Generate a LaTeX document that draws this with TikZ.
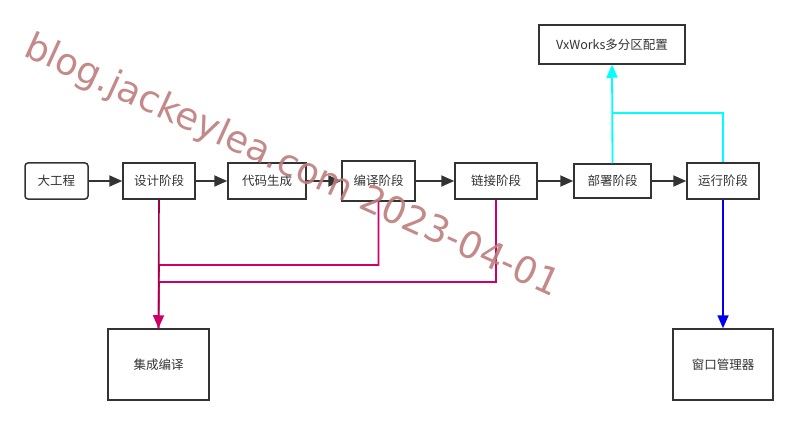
\documentclass[tikz,border=0pt]{standalone}
\usepackage{fontspec}
\setmainfont{Noto Sans CJK SC}
\newfontfamily\wmfont{DejaVu Sans}
\usetikzlibrary{arrows.meta}
\definecolor{boxc}{HTML}{333333}
\definecolor{pinkc}{HTML}{CC0066}
\definecolor{darkpink}{HTML}{A3004A}
\definecolor{wmc}{HTML}{BE7C7C}
\definecolor{cyanc}{HTML}{00FFFF}
\definecolor{bluec}{HTML}{0000EE}
\tikzset{
  box/.style={draw=boxc, line width=1.5pt, fill=white, text=boxc, font=\fontsize{12.5}{14}\selectfont, inner sep=0pt},
  flow/.style={draw=boxc, line width=1.8pt, -{Triangle[length=13pt,width=11pt]}},
  tip/.style={-{Triangle[length=13pt,width=11pt]}},
}
\begin{document}
\begin{tikzpicture}[x=1pt,y=-1pt]
\useasboundingbox (0,0) rectangle (798,425);
% nodes
\node[box, rounded corners=3pt, minimum width=63pt, minimum height=36pt] (dgc) at (56.5,181) {大工程};
\node[box, minimum width=72pt, minimum height=36pt] (sj) at (159,181) {设计阶段};
\node[box, minimum width=78pt, minimum height=36pt] (dm) at (267,181) {代码生成};
\node[box, minimum width=73pt, minimum height=40pt] (by) at (378.5,181) {编译阶段};
\node[box, minimum width=82pt, minimum height=36pt] (lj) at (496,181) {链接阶段};
\node[box, minimum width=77pt, minimum height=34pt] (bs) at (612.5,181) {部署阶段};
\node[box, minimum width=72pt, minimum height=36pt] (yx) at (723,181) {运行阶段};
\node[box, minimum width=146pt, minimum height=39pt] (vx) at (612,44.5) {VxWorks多分区配置};
\node[box, minimum width=101pt, minimum height=71pt] (jc) at (158.5,364.5) {集成编译};
\node[box, minimum width=100pt, minimum height=71pt] (ck) at (723,364.5) {窗口管理器};
% helper coordinates
\coordinate (m1) at (159,265);
\coordinate (m2) at (159,282);
\coordinate (c1) at (612,113);
% main flow
\draw[flow] (dgc) -- (sj);
\draw[flow] (sj) -- (dm);
\draw[flow] (dm) -- (by);
\draw[flow] (by) -- (lj);
\draw[flow] (lj) -- (bs);
\draw[flow] (bs) -- (yx);
% cyan
\draw[cyanc, line width=1.8pt] (yx.north) |- (c1);
\draw[cyanc, line width=1.8pt, tip] (bs.north) -- (vx.south);
% blue
\draw[bluec, line width=1.8pt, tip] (yx.south) -- (ck.north);
% pink
\draw[pinkc, line width=1.6pt] (by.south) |- (m1) -- (jc.north);
\draw[pinkc, line width=1.6pt] (lj.south) |- (m2) -- (jc.north);
\draw[darkpink, line width=1.6pt, -{Triangle[length=13pt,width=11pt,color=pinkc]}] (sj.south) -- (jc.north);
% watermark
\node[text=wmc, opacity=0.9, font=\wmfont\fontsize{37}{40}\selectfont, rotate=-24.5, anchor=base west, inner sep=0pt] (wm) at (22,55) {blog.jackeylea.com 2023-04-01};
\end{tikzpicture}
\end{document}
